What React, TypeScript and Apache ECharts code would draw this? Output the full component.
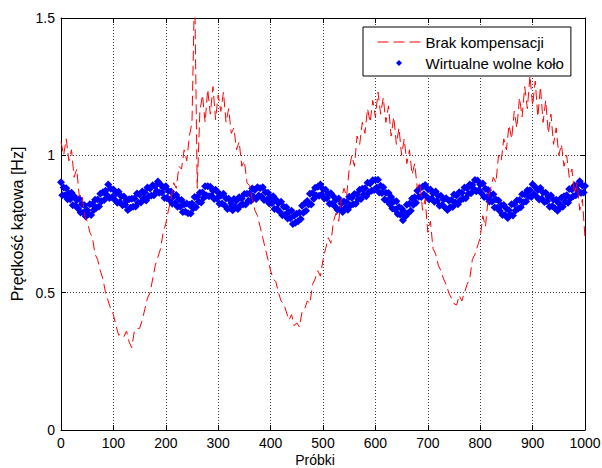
import React, { useEffect, useRef } from 'react';
import * as echarts from 'echarts';

// sample spacing of the value arrays along the "Próbki" axis
const SAMPLE_STEP = 5;

const seriesNames = ['Brak kompensacji', 'Wirtualne wolne koło'];
const xAxisName = 'Próbki';
const yAxisName = 'Prędkość kątowa [Hz]';
const xRange = [0, 1000];
const xTickStep = 100;
const yRange = [0, 1.5];
const yTickStep = 0.5;

// red dashed line: values at samples 0, 5, 10, ... 1000
const brakKompensacji = [
  1.05, 1.00, 1.06, 0.98, 1.02, 0.92, 0.95, 0.85, 0.86, 0.78,
  0.76, 0.72, 0.70, 0.64, 0.62, 0.58, 0.55, 0.50, 0.47, 0.44,
  0.42, 0.38, 0.345, 0.35, 0.34, 0.36, 0.32, 0.30, 0.36, 0.37,
  0.37, 0.40, 0.44, 0.48, 0.50, 0.55, 0.60, 0.63, 0.66, 0.72,
  0.75, 0.80, 0.84, 0.90, 0.88, 0.96, 0.95, 1.02, 0.98, 1.07,
  1.12, 1.62, 0.88, 1.16, 1.22, 1.12, 1.24, 1.15, 1.25, 1.13,
  1.22, 1.16, 1.23, 1.12, 1.17, 1.08, 1.10, 1.02, 1.05, 0.96,
  0.98, 0.90, 0.89, 0.84, 0.80, 0.78, 0.74, 0.70, 0.66, 0.62,
  0.58, 0.55, 0.54, 0.50, 0.47, 0.46, 0.43, 0.40, 0.42, 0.38,
  0.39, 0.375, 0.43, 0.44, 0.47, 0.46, 0.53, 0.55, 0.58, 0.56,
  0.62, 0.66, 0.70, 0.68, 0.76, 0.79, 0.76, 0.84, 0.88, 0.85,
  0.95, 1.00, 0.96, 1.07, 1.04, 1.12, 1.08, 1.17, 1.12, 1.20,
  1.14, 1.23, 1.15, 1.21, 1.12, 1.18, 1.07, 1.14, 1.04, 1.10,
  1.00, 1.06, 0.97, 1.02, 0.93, 0.97, 0.88, 0.90, 0.80, 0.84,
  0.72, 0.76, 0.66, 0.64, 0.60, 0.58, 0.55, 0.53, 0.50, 0.48,
  0.46, 0.455, 0.49, 0.47, 0.50, 0.53, 0.55, 0.62, 0.64, 0.67,
  0.70, 0.78, 0.74, 0.84, 0.88, 0.92, 0.90, 1.00, 0.98, 1.06,
  1.02, 1.11, 1.06, 1.16, 1.10, 1.21, 1.14, 1.25, 1.17, 1.29,
  1.18, 1.27, 1.14, 1.25, 1.12, 1.20, 1.08, 1.15, 1.04, 1.10,
  1.00, 1.04, 0.96, 1.00, 0.92, 0.95, 0.86, 0.90, 0.80, 0.84,
  0.70,
];

// blue diamonds, upper strand: values at samples 0, 5, 10, ... 1000
const wirtualneWolneKolo = [
  0.902, 0.883, 0.880, 0.862, 0.864, 0.851, 0.837, 0.841, 0.822, 0.818,
  0.800, 0.822, 0.822, 0.838, 0.839, 0.860, 0.866, 0.871, 0.894, 0.878,
  0.876, 0.861, 0.867, 0.851, 0.850, 0.835, 0.840, 0.842, 0.843, 0.861,
  0.857, 0.868, 0.865, 0.883, 0.879, 0.891, 0.888, 0.905, 0.894, 0.881,
  0.887, 0.870, 0.868, 0.851, 0.856, 0.839, 0.837, 0.821, 0.825, 0.820,
  0.825, 0.848, 0.848, 0.864, 0.865, 0.887, 0.887, 0.886, 0.871, 0.875,
  0.865, 0.853, 0.860, 0.843, 0.842, 0.826, 0.841, 0.836, 0.847, 0.843,
  0.859, 0.860, 0.861, 0.879, 0.874, 0.884, 0.880, 0.884, 0.866, 0.864,
  0.848, 0.851, 0.839, 0.826, 0.831, 0.813, 0.811, 0.794, 0.798, 0.780,
  0.787, 0.791, 0.816, 0.825, 0.834, 0.860, 0.863, 0.882, 0.886, 0.894,
  0.877, 0.875, 0.858, 0.862, 0.850, 0.838, 0.843, 0.825, 0.832, 0.830,
  0.849, 0.846, 0.859, 0.857, 0.875, 0.878, 0.880, 0.900, 0.897, 0.909,
  0.910, 0.911, 0.889, 0.884, 0.864, 0.863, 0.848, 0.832, 0.833, 0.812,
  0.806, 0.795, 0.820, 0.824, 0.843, 0.847, 0.871, 0.880, 0.886, 0.892,
  0.877, 0.876, 0.862, 0.868, 0.853, 0.853, 0.839, 0.844, 0.836, 0.837,
  0.857, 0.854, 0.866, 0.864, 0.883, 0.880, 0.894, 0.892, 0.910, 0.908,
  0.894, 0.897, 0.878, 0.874, 0.855, 0.858, 0.839, 0.836, 0.817, 0.819,
  0.806, 0.800, 0.822, 0.822, 0.836, 0.837, 0.858, 0.857, 0.873, 0.873,
  0.895, 0.885, 0.874, 0.881, 0.865, 0.864, 0.848, 0.854, 0.838, 0.838,
  0.826, 0.846, 0.851, 0.855, 0.877, 0.876, 0.890, 0.890, 0.906, 0.890,
  0.888,
];

// blue diamonds, lower strand: values at samples 2.5, 7.5, ... 997.5
const wirtualneWolneKoloMid = [
  0.855, 0.855, 0.840, 0.840, 0.818, 0.817, 0.806, 0.792, 0.792, 0.777,
  0.786, 0.783, 0.801, 0.809, 0.814, 0.833, 0.837, 0.856, 0.845, 0.847,
  0.838, 0.827, 0.830, 0.818, 0.820, 0.801, 0.809, 0.813, 0.814, 0.828,
  0.828, 0.843, 0.836, 0.850, 0.854, 0.855, 0.870, 0.864, 0.865, 0.845,
  0.846, 0.837, 0.824, 0.826, 0.813, 0.814, 0.794, 0.795, 0.789, 0.788,
  0.807, 0.811, 0.831, 0.828, 0.846, 0.854, 0.851, 0.853, 0.841, 0.843,
  0.824, 0.825, 0.817, 0.805, 0.808, 0.800, 0.813, 0.805, 0.818, 0.821,
  0.821, 0.835, 0.835, 0.849, 0.841, 0.854, 0.850, 0.837, 0.838, 0.825,
  0.826, 0.805, 0.805, 0.795, 0.782, 0.784, 0.770, 0.771, 0.750, 0.755,
  0.760, 0.768, 0.791, 0.798, 0.821, 0.821, 0.842, 0.854, 0.853, 0.857,
  0.843, 0.844, 0.824, 0.824, 0.815, 0.802, 0.803, 0.794, 0.808, 0.802,
  0.817, 0.822, 0.824, 0.840, 0.841, 0.857, 0.851, 0.866, 0.871, 0.874,
  0.883, 0.865, 0.863, 0.839, 0.835, 0.822, 0.806, 0.803, 0.786, 0.784,
  0.764, 0.778, 0.789, 0.798, 0.820, 0.827, 0.849, 0.848, 0.858, 0.850,
  0.839, 0.843, 0.831, 0.835, 0.816, 0.819, 0.811, 0.801, 0.811, 0.812,
  0.828, 0.822, 0.837, 0.842, 0.844, 0.860, 0.862, 0.878, 0.869, 0.874,
  0.862, 0.848, 0.848, 0.832, 0.832, 0.810, 0.809, 0.797, 0.783, 0.783,
  0.772, 0.785, 0.781, 0.799, 0.806, 0.811, 0.829, 0.832, 0.851, 0.848,
  0.858, 0.850, 0.839, 0.842, 0.830, 0.833, 0.813, 0.815, 0.807, 0.798,
  0.810, 0.813, 0.831, 0.827, 0.844, 0.851, 0.855, 0.870, 0.863, 0.865,
];

const FONT = '"Liberation Sans", Arial, sans-serif';
const TEXT_COLOR = '#000';

const toPairs = (vals: number[]) => vals.map((v, i) => [i * SAMPLE_STEP, v]);

const blueData: number[][] = [];
wirtualneWolneKolo.forEach((v, i) => {
  blueData.push([i * SAMPLE_STEP, v]);
  if (i < wirtualneWolneKoloMid.length) {
    blueData.push([i * SAMPLE_STEP + SAMPLE_STEP / 2, wirtualneWolneKoloMid[i]]);
  }
});

const baseX = {
  type: 'value' as const,
  min: xRange[0],
  max: xRange[1],
  interval: xTickStep,
};
const baseY = {
  type: 'value' as const,
  min: yRange[0],
  max: yRange[1],
  interval: yTickStep,
};

const axisLine = { show: true, onZero: false, lineStyle: { color: '#000', width: 1 } };
const axisTick = { show: true, inside: true, length: 5, lineStyle: { color: '#000', width: 1 } };
const splitLine = { show: true, lineStyle: { color: '#3a3a3a', width: 1, type: [1, 2] } };

export default function App() {
  const ref = useRef<HTMLDivElement>(null);

  useEffect(() => {
    if (!ref.current) return;
    const chart = echarts.init(ref.current, null, { renderer: 'svg' });
    chart.setOption({
      animation: false,
      backgroundColor: '#fff',
      grid: { left: 61, right: 17, top: 18, bottom: 38, containLabel: false, outerBoundsMode: 'none' },
      legend: {
        data: [
          {
            name: seriesNames[0],
            itemStyle: { color: 'rgba(0,0,0,0)', borderWidth: 0 },
            lineStyle: { color: '#ff0000', width: 1, type: [11, 5] },
          },
          { name: seriesNames[1], icon: 'path://M3,0L6,3L3,6L0,3Z' },
        ],
        orient: 'vertical',
        left: 363,
        top: 27,
        padding: [7, 7, 5, 14],
        itemWidth: 43,
        itemHeight: 6,
        itemGap: 5,
        symbolKeepAspect: true,
        backgroundColor: '#fff',
        borderColor: '#000',
        borderWidth: 1,
        borderRadius: 0,
        selectedMode: false,
        textStyle: { fontSize: 15, color: TEXT_COLOR, fontFamily: FONT, lineHeight: 16 },
      },
      xAxis: [
        {
          ...baseX,
          position: 'bottom',
          axisLine,
          axisTick,
          splitLine,
          axisLabel: {
            margin: 6,
            fontSize: 14,
            color: TEXT_COLOR,
            fontFamily: FONT,
            formatter: (v: number) => String(v),
          },
          name: xAxisName,
          nameLocation: 'middle',
          nameGap: 22,
          nameMoveOverlap: false,
          nameTextStyle: {
            fontSize: 14,
            lineHeight: 15,
            color: TEXT_COLOR,
            fontFamily: FONT,
            padding: [0, 16, 0, 0],
          },
        },
        {
          ...baseX,
          position: 'top',
          axisLine,
          axisTick,
          splitLine: { show: false },
          axisLabel: { show: false },
        },
      ],
      yAxis: [
        {
          ...baseY,
          position: 'left',
          axisLine,
          axisTick,
          splitLine,
          axisLabel: { margin: 6, fontSize: 14, color: TEXT_COLOR, fontFamily: FONT },
          name: yAxisName,
          nameLocation: 'middle',
          nameGap: 36,
          nameMoveOverlap: false,
          nameTextStyle: { fontSize: 16, color: TEXT_COLOR, fontFamily: FONT },
        },
        {
          ...baseY,
          position: 'right',
          axisLine,
          axisTick,
          splitLine: { show: false },
          axisLabel: { show: false },
        },
      ],
      series: [
        {
          name: seriesNames[1],
          type: 'scatter',
          xAxisIndex: 0,
          yAxisIndex: 0,
          data: blueData,
          symbol: 'diamond',
          symbolSize: 8,
          itemStyle: { color: '#0000ff', opacity: 1 },
          z: 2,
        },
        {
          name: seriesNames[0],
          type: 'line',
          xAxisIndex: 0,
          yAxisIndex: 0,
          data: toPairs(brakKompensacji),
          symbol: 'none',
          showSymbol: false,
          clip: true,
          lineStyle: { color: '#ff0000', width: 1, type: [10, 5] },
          itemStyle: { color: '#ff0000' },
          z: 3,
        },
      ],
    });
    return () => chart.dispose();
  }, []);

  return (
    <div
      ref={ref}
      style={{ position: 'fixed', left: 0, top: 0, width: 602, height: 468, background: '#fff' }}
    />
  );
}
